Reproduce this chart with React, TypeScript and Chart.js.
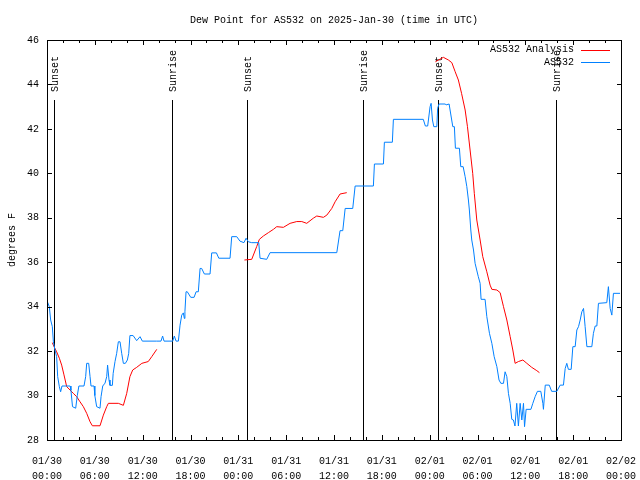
import React, { useEffect, useRef } from 'react';
import { Chart, registerables } from 'chart.js';

Chart.register(...registerables);

const TITLE = 'Dew Point for AS532 on 2025-Jan-30 (time in UTC)';
const Y_LABEL = 'degrees F';
const FONT_FAMILY = "'Liberation Mono', 'DejaVu Sans Mono', monospace";

const xTickDates = ['01/30', '01/30', '01/30', '01/30', '01/31', '01/31', '01/31', '01/31', '02/01', '02/01', '02/01', '02/01', '02/02'];
const xTickTimes = ['00:00', '06:00', '12:00', '18:00', '00:00', '06:00', '12:00', '18:00', '00:00', '06:00', '12:00', '18:00', '00:00'];

const sunHours = [0.92, 15.72, 25.06, 39.69, 49.1, 63.86];
const sunLabels = ['Sunset', 'Sunrise', 'Sunset', 'Sunrise', 'Sunset', 'Sunrise'];

const legendLabels = ['AS532 Analysis', 'AS532'];
const RED = '#ff0000';
const BLUE = '#0080ff';

// AS532 observations (hours since 01/30 00:00 UTC, degrees F)
const obsHours = [
  0.05, 0.29, 0.46, 0.67, 0.8, 1.0, 1.21, 1.34, 1.55, 1.71, 1.88, 2.9, 3.0, 3.2, 3.6, 3.8, 4.0, 4.64, 4.85, 4.98,
  5.23, 5.4, 5.52, 5.9, 6.0, 6.23, 6.65, 6.78, 6.99, 7.28, 7.49, 7.6, 7.78, 7.9, 8.2, 8.3, 8.53, 8.74, 8.95, 9.16,
  9.37, 9.58, 9.83, 10.08, 10.25, 10.4, 10.8, 11.25, 11.67, 11.96, 13.76, 14.3, 14.5, 14.68, 15.77, 15.97, 16.19, 16.48, 16.69, 16.9,
  17.1, 17.23, 17.3, 17.44, 17.6, 18.03, 18.45, 18.7, 18.98, 19.2, 19.4, 19.74, 20.45, 20.66, 21.25, 21.55, 22.96, 23.17, 23.8, 24.2,
  24.7, 24.97, 25.26, 25.68, 26.56, 26.72, 27.56, 27.98, 36.35, 36.76, 37.1, 37.4, 38.35, 38.65, 40.94, 41.07, 42.2, 42.32, 43.32, 43.45,
  47.2, 47.46, 47.75, 48.05, 48.18, 48.35, 48.52, 48.9, 49.0, 49.18, 49.94, 50.06, 50.44, 50.56, 50.9, 51.1, 51.23, 51.73, 51.9, 52.2,
  52.45, 52.66, 52.86, 52.98, 53.16, 53.28, 53.5, 53.7, 53.9, 54.1, 54.33, 54.45, 54.95, 55.17, 55.5, 55.8, 56.09, 56.43, 56.7, 56.93,
  57.26, 57.46, 57.68, 57.88, 58.1, 58.3, 58.5, 58.7, 58.92, 59.13, 59.35, 59.56, 59.77, 59.9, 60.1, 60.7, 60.94, 61.23, 61.52, 61.94,
  62.2, 62.27, 62.5, 63.0, 63.3, 63.95, 64.37, 64.78, 65.0, 65.2, 65.4, 65.75, 65.96, 66.25, 66.46, 66.67, 66.88, 67.09, 67.3, 67.5,
  67.72, 68.34, 68.54, 68.76, 68.97, 69.17, 70.22, 70.42, 70.64, 70.85, 71.05, 71.88,
];
const obsValues = [
  34.22, 34.0, 33.4, 33.1, 32.42, 32.05, 31.75, 30.85, 30.4, 30.17, 30.43, 30.43, 30.25, 29.5, 29.43, 30.0, 30.43, 30.43, 30.85, 31.45,
  31.45, 30.85, 30.43, 30.43, 30.0, 29.5, 29.43, 29.95, 30.43, 30.56, 30.85, 31.37, 30.7, 30.46, 30.46, 31.0, 31.53, 31.9, 32.42, 32.42,
  31.9, 31.45, 31.45, 31.6, 31.9, 32.7, 32.7, 32.47, 32.65, 32.45, 32.45, 32.45, 32.68, 32.45, 32.45, 32.68, 32.45, 32.45, 33.17, 33.62,
  33.72, 33.47, 33.77, 34.67, 34.67, 34.42, 34.42, 34.67, 34.67, 35.72, 35.72, 35.47, 35.47, 36.42, 36.42, 36.18, 36.18, 37.15, 37.15, 36.95,
  36.88, 37.08, 36.92, 36.88, 36.88, 36.18, 36.13, 36.43, 36.43, 37.42, 37.42, 38.42, 38.42, 39.43, 39.43, 40.42, 40.42, 41.4, 41.4, 42.43,
  42.43, 42.13, 42.13, 43.0, 43.15, 42.4, 42.1, 42.1, 42.93, 43.12, 43.12, 43.08, 43.12, 42.85, 42.1, 42.1, 41.13, 41.13, 40.3, 40.3,
  39.85, 39.4, 38.8, 38.35, 37.45, 37.0, 36.55, 35.95, 35.65, 35.35, 35.05, 34.33, 34.33, 33.55, 32.8, 32.35, 31.75, 31.3, 30.7, 30.55,
  30.55, 31.07, 30.85, 30.1, 29.65, 28.93, 28.9, 28.63, 29.65, 28.63, 29.65, 28.9, 29.65, 28.6, 29.38, 29.38, 29.65, 29.95, 30.19, 30.19,
  29.65, 29.38, 30.47, 30.47, 30.19, 30.19, 30.47, 30.47, 31.22, 31.45, 31.18, 31.18, 32.2, 32.2, 32.95, 33.1, 33.4, 33.77, 33.92, 33.1,
  32.2, 32.2, 32.8, 33.13, 33.13, 34.15, 34.18, 34.9, 33.92, 33.62, 34.6, 34.6,
];

// AS532 Analysis (null = no analysis)
const anaHours = [
  0.67, 0.88, 1.21, 1.55, 1.84, 2.13, 2.47, 2.89, 3.3, 3.72, 4.14, 4.56, 4.98, 5.4, 5.69, 6.65, 7.07, 7.49, 7.7, 8.95,
  9.58, 10.0, 10.4, 10.75, 11.25, 11.9, 12.7, 13.14, 13.77, 19.0,
  24.76, 25.68, 26.3, 26.64, 27.14, 27.77, 28.4, 28.82, 29.65, 30.49, 31.33, 31.96, 32.58, 33.4, 33.84, 34.67, 35.1, 35.72, 36.14, 36.76,
  37.6, 43.0,
  48.72, 49.1, 49.72, 50.35, 50.78, 51.2, 51.6, 52.0, 52.45, 52.74, 53.07, 53.4, 53.6, 53.91, 54.33, 54.66, 55.17, 55.58, 55.8, 56.43,
  56.84, 57.26, 57.68, 58.1, 58.43, 58.72, 59.13, 59.69, 60.19, 60.8, 61.44, 61.77,
];
const anaValues = [
  32.38, 32.2, 31.97, 31.68, 31.37, 30.93, 30.4, 30.25, 30.1, 29.95, 29.72, 29.5, 29.2, 28.82, 28.64, 28.64, 29.12, 29.5, 29.65, 29.65,
  29.56, 30.1, 30.85, 31.15, 31.27, 31.45, 31.53, 31.75, 32.08, null,
  36.1, 36.13, 36.7, 37.03, 37.18, 37.33, 37.48, 37.6, 37.57, 37.75, 37.83, 37.83, 37.75, 37.98, 38.08, 38.02, 38.12, 38.42, 38.72, 39.07,
  39.13, null,
  45.02, 45.1, 45.22, 45.1, 44.98, 44.57, 44.2, 43.6, 42.85, 42.1, 41.05, 40.0, 39.1, 37.9, 37.0, 36.25, 35.57, 34.97, 34.78, 34.75,
  34.63, 34.0, 33.4, 32.65, 32.05, 31.45, 31.53, 31.6, 31.45, 31.27, 31.12, 31.03,
];

const Y_MIN = 28;
const Y_MAX = 46;
const Y_STEP = 2;
const X_MIN = 0;
const X_MAX = 72;
const X_STEP = 6;
const X_MINOR = 2;

const font = (size: number) => `${size}px ${FONT_FAMILY}`;

const decor = {
  id: 'decor',
  beforeDatasetsDraw(chart: any) {
    const { ctx, chartArea: a, scales } = chart;
    const x = scales.x;
    ctx.save();
    ctx.strokeStyle = '#000';
    ctx.fillStyle = '#000';
    ctx.lineWidth = 1;
    ctx.font = font(10);
    sunHours.forEach((h, i) => {
      const px = Math.round(x.getPixelForValue(h)) + 0.5;
      ctx.beginPath();
      ctx.moveTo(px, a.top + 60);
      ctx.lineTo(px, a.bottom);
      ctx.stroke();
      ctx.save();
      ctx.translate(px + 1, a.top + 52);
      ctx.rotate(-Math.PI / 2);
      ctx.textAlign = 'left';
      ctx.textBaseline = 'middle';
      ctx.fillText(sunLabels[i], 0, 0);
      ctx.restore();
    });
    ctx.restore();
  },
  afterDatasetsDraw(chart: any) {
    const { ctx, chartArea: a, scales } = chart;
    const x = scales.x;
    const y = scales.y;
    ctx.save();
    ctx.strokeStyle = '#000';
    ctx.lineWidth = 1;
    // border
    ctx.strokeRect(a.left + 0.5, a.top + 0.5, a.right - a.left, a.bottom - a.top);
    // x ticks (inward, bottom and top)
    ctx.beginPath();
    for (let h = X_MIN; h <= X_MAX; h += X_MINOR) {
      const len = h % X_STEP === 0 ? 5 : 3;
      const px = Math.round(x.getPixelForValue(h)) + 0.5;
      ctx.moveTo(px, a.bottom);
      ctx.lineTo(px, a.bottom - len);
      ctx.moveTo(px, a.top);
      ctx.lineTo(px, a.top + len);
    }
    // y ticks (inward, left and right)
    for (let v = Y_MIN; v <= Y_MAX; v += Y_STEP) {
      const py = Math.round(y.getPixelForValue(v)) + 0.5;
      ctx.moveTo(a.left, py);
      ctx.lineTo(a.left + 5, py);
      ctx.moveTo(a.right + 1, py);
      ctx.lineTo(a.right - 4, py);
    }
    ctx.stroke();
    // legend
    ctx.font = font(10);
    ctx.fillStyle = '#000';
    ctx.textAlign = 'right';
    ctx.textBaseline = 'middle';
    const colors = [RED, BLUE];
    legendLabels.forEach((label, i) => {
      const ry = a.top + 9.5 + i * 12.5;
      ctx.fillText(label, a.right - 47, ry);
      ctx.strokeStyle = colors[i];
      ctx.beginPath();
      const ly = Math.round(ry) + 0.5;
      ctx.moveTo(a.right - 40, ly);
      ctx.lineTo(a.right - 11, ly);
      ctx.stroke();
    });
    ctx.restore();
  },
};

export default function App() {
  const ref = useRef<HTMLCanvasElement | null>(null);

  useEffect(() => {
    if (!ref.current) return;
    const obsData = obsHours.map((h, i) => ({ x: h, y: obsValues[i] }));
    const anaData = anaHours.map((h, i) => ({ x: h, y: anaValues[i] }));
    const chart = new Chart(ref.current, {
      type: 'line',
      data: {
        datasets: [
          {
            label: legendLabels[1],
            data: obsData,
            borderColor: BLUE,
            borderWidth: 1,
            pointRadius: 0,
            tension: 0,
            fill: false,
          },
          {
            label: legendLabels[0],
            data: anaData,
            borderColor: RED,
            borderWidth: 1,
            pointRadius: 0,
            tension: 0,
            fill: false,
            spanGaps: false,
          },
        ],
      },
      options: {
        responsive: false,
        animation: false,
        devicePixelRatio: 1,
        events: [],
        layout: { padding: { top: 0, right: 19, bottom: 0, left: 0 } },
        plugins: {
          legend: { display: false },
          tooltip: { enabled: false },
          title: {
            display: true,
            text: TITLE,
            color: '#000',
            fullSize: false,
            font: { family: FONT_FAMILY, size: 10, weight: 'normal', lineHeight: 1.2 },
            padding: { top: 14, bottom: 14 },
          },
        },
        scales: {
          x: {
            type: 'linear',
            position: 'bottom',
            min: X_MIN,
            max: X_MAX,
            grid: { display: false, drawTicks: false },
            border: { display: false },
            ticks: {
              stepSize: X_STEP,
              autoSkip: false,
              maxRotation: 0,
              minRotation: 0,
              padding: 14,
              color: '#000',
              font: { family: FONT_FAMILY, size: 10, lineHeight: 1.5 },
              callback: (value: any) => {
                const idx = Math.round(Number(value) / X_STEP);
                return [xTickDates[idx], xTickTimes[idx]];
              },
            },
            afterFit: (s: any) => {
              s.height = 40;
              s.paddingLeft = 0;
              s.paddingRight = 0;
            },
          },
          y: {
            type: 'linear',
            position: 'left',
            min: Y_MIN,
            max: Y_MAX,
            grid: { display: false, drawTicks: false },
            border: { display: false },
            ticks: {
              stepSize: Y_STEP,
              padding: 8,
              color: '#000',
              font: { family: FONT_FAMILY, size: 10, lineHeight: 1.2 },
            },
            title: {
              display: true,
              text: Y_LABEL,
              color: '#000',
              font: { family: FONT_FAMILY, size: 10, lineHeight: 1.2 },
              padding: { top: 6, bottom: 0 },
            },
            afterFit: (s: any) => {
              s.width = 47;
              s.paddingTop = 0;
              s.paddingBottom = 0;
            },
          },
        },
      },
      plugins: [decor],
    } as any);
    return () => chart.destroy();
  }, []);

  return (
    <div style={{ position: 'absolute', left: 0, top: 0, width: 640, height: 480, background: '#fff' }}>
      <canvas ref={ref} width={640} height={480} />
    </div>
  );
}
